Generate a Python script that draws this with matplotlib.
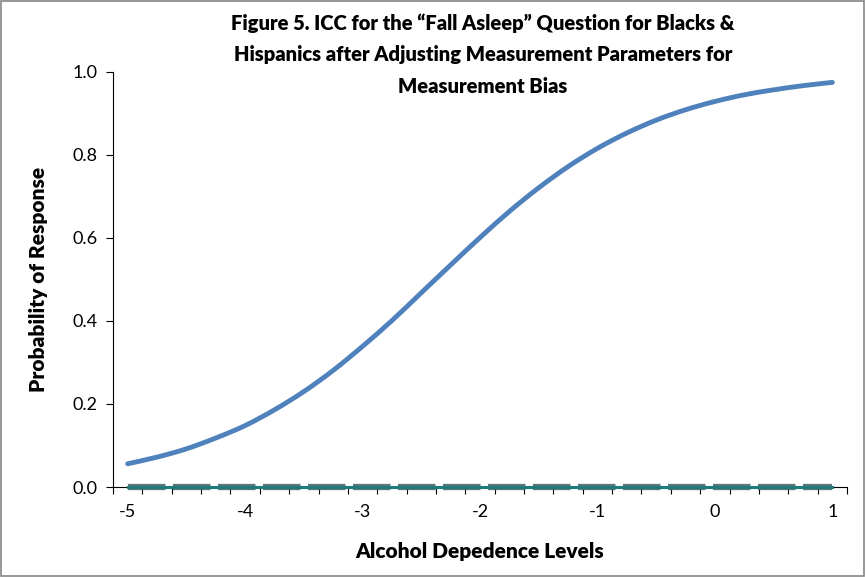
import numpy as np
import matplotlib.pyplot as plt
from matplotlib.patches import Rectangle, PathPatch
from matplotlib.path import Path

# =========================
# Data
# =========================
levels = [-5.0, -4.75, -4.5, -4.25, -4.0, -3.75, -3.5, -3.25, -3.0,
          -2.75, -2.5, -2.25, -2.0, -1.75, -1.5, -1.25, -1.0,
          -0.75, -0.5, -0.25, 0.0, 0.25, 0.5, 0.75, 1.0]
prob_response = [0.056, 0.072, 0.092, 0.118, 0.148, 0.186, 0.230, 0.281, 0.339,
                 0.401, 0.468, 0.535, 0.601, 0.664, 0.721, 0.772, 0.816,
                 0.853, 0.884, 0.909, 0.929, 0.945, 0.957, 0.967, 0.975]
zero_series = [0.0] * len(levels)

x_ticks = [-5, -4, -3, -2, -1, 0, 1]
y_ticks = [0.0, 0.2, 0.4, 0.6, 0.8, 1.0]

title = ("Figure 5. ICC for the \u201cFall Asleep\u201d Question for Blacks &\n"
         "Hispanics after Adjusting Measurement Parameters for\n"
         "Measurement Bias")


def smooth_path(x, y):
    # Excel-like smoothed line: Catmull-Rom segments as cubic Beziers
    x = np.asarray(x, float)
    y = np.asarray(y, float)
    verts = [(x[0], y[0])]
    codes = [Path.MOVETO]
    n = len(x)
    for i in range(n - 1):
        i0, i3 = max(i - 1, 0), min(i + 2, n - 1)
        c1 = (x[i] + (x[i+1] - x[i0]) / 6, y[i] + (y[i+1] - y[i0]) / 6)
        c2 = (x[i+1] - (x[i3] - x[i]) / 6, y[i+1] - (y[i3] - y[i]) / 6)
        verts += [c1, c2, (x[i+1], y[i+1])]
        codes += [Path.CURVE4] * 3
    return Path(verts, codes)


plt.rcParams['font.family'] = ['Lato', 'DejaVu Sans']

fig = plt.figure(figsize=(8.66, 5.77), dpi=100)
ax = fig.add_axes([113/866, 1 - 487/577, (847-113)/866, (487-72)/577])

# zero lines (thick dashed grey-teal under a solid teal line)
ax.plot(levels, zero_series, color='#4a6868', lw=4.5, ls=(0, (6, 1.2)),
        alpha=0.9, solid_capstyle='butt', zorder=2, clip_on=False)
ax.plot(levels, zero_series, color='#1e7b7c', lw=2.2, zorder=3, clip_on=False)

# ICC curve
ax.add_patch(PathPatch(smooth_path(levels, prob_response), fill=False,
                       edgecolor='#4f81bd', lw=3.5, capstyle='round',
                       joinstyle='round', zorder=4))

step = levels[1] - levels[0]
ax.set_xlim(levels[0] - step/2, levels[-1] + step/2)
ax.set_ylim(0, 1)

minor = np.arange(levels[0] - step/2, levels[-1] + step, step)
ax.set_xticks(minor, minor=True)
ax.set_xticks(x_ticks)
ax.set_xticklabels([str(v) for v in x_ticks])
ax.set_yticks(y_ticks)
ax.set_yticklabels([f"{v:.1f}" for v in y_ticks])

ax.tick_params(axis='x', which='major', length=0, labelsize=13, pad=12)
ax.tick_params(axis='x', which='minor', direction='out', length=5,
               width=0.8, color='black')
ax.tick_params(axis='y', direction='out', length=5, width=0.8,
               labelsize=13, pad=6)

for s in ['top', 'right']:
    ax.spines[s].set_visible(False)
ax.spines['left'].set_linewidth(0.8)
ax.spines['bottom'].set_linewidth(0.8)

ax.set_xlabel("Alcohol Depedence Levels", fontsize=15, fontweight='heavy',
              labelpad=16)
ax.set_ylabel("Probability of Response", fontsize=15, fontweight='heavy',
              labelpad=18)

fig.text(483/866, 1 - 13/577, title, ha='center', va='top', fontsize=14.5,
         fontweight='heavy', linespacing=1.8)

# chart border
fig.patches.append(Rectangle((0.001, 0.001), 0.997, 0.997, transform=fig.transFigure,
                             fill=False, edgecolor='#868686', lw=1.2))

fig.savefig("out.png", dpi=100)
